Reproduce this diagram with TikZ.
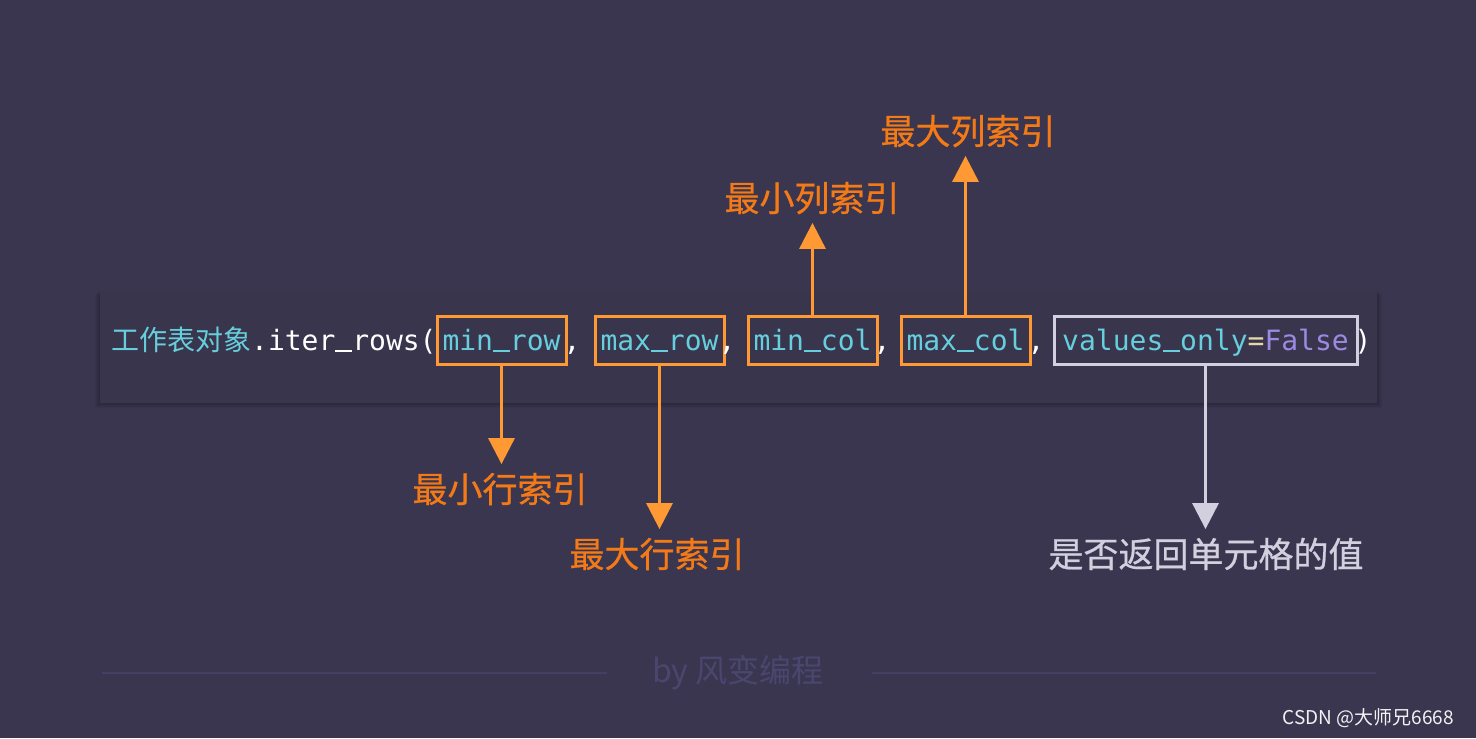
\documentclass[tikz,border=0pt]{standalone}
\usepackage{fontspec}
\setmonofont{DejaVu Sans Mono}
\newfontfamily\cjk{Noto Sans CJK SC}
\newfontfamily\cjkb[FakeBold=0.6]{Noto Sans CJK SC}
\usetikzlibrary{arrows.meta}

\definecolor{bgc}{RGB}{58,54,80}
\definecolor{panelc}{RGB}{56,53,77}
\definecolor{codecyan}{RGB}{102,206,220}
\definecolor{argorange}{RGB}{255,153,51}
\definecolor{lblorange}{RGB}{243,122,22}
\definecolor{valgray}{RGB}{210,208,222}
\definecolor{eqc}{RGB}{230,215,170}
\definecolor{falsec}{RGB}{155,138,224}
\definecolor{rulec}{RGB}{68,64,100}
\definecolor{byc}{RGB}{74,70,110}

% underscore drawn as a rule, one mono cell wide
\newcommand{\usc}{\makebox[0.602em][l]{\rule[-0.9pt]{0.602em}{1.1pt}}}

\begin{document}
\begin{tikzpicture}[x=0.5pt,y=-0.5pt,
    code/.style={font=\fontsize{14pt}{16pt}\selectfont\ttfamily, text=codecyan,
        inner xsep=0pt, inner ysep=0pt, text height=12pt, text depth=2pt},
    argbox/.style={code, draw=argorange, line width=1.5pt,
        minimum width=64.5pt, minimum height=24pt},
    lbl/.style={font=\cjkb\fontsize{17.5pt}{20pt}\selectfont, text=lblorange,
        inner sep=0pt, text height=15.4pt, text depth=2.1pt},
    arr/.style={line width=1.5pt, draw=argorange,
        -{Triangle[width=13pt,length=13pt]}, shorten >=3.5pt}
]
    % Background and code panel with a soft shadow
    \fill[bgc] (0,0) rectangle (1476,738);
    \foreach \s in {1,...,5} {
        \fill[black, opacity=0.045] (100-\s,290+\s) rectangle (1377+\s,403+\s);
    }
    \fill[panelc] (100,290) rectangle (1377,403);

    % The call itself
    \node[code, anchor=east] (obj) at (437,340)
        {{\cjk 工作表对象}{\color{white}.iter\usc rows(}};

    % Boxed arguments
    \foreach \n/\x/\t in {minrow/501.5/min\usc row, maxrow/659.5/max\usc row,
                          mincol/812.5/min\usc col, maxcol/965.5/max\usc col} {
        \node[argbox] (\n) at (\x,340) {\t};
    }
    \node[argbox, draw=valgray, minimum width=151.5pt] (values) at (1205.5,340)
        {values\usc only{\color{eqc}=}{\color{falsec}False}};

    % Commas and closing bracket
    \foreach \x [count=\i] in {572,727,882,1036} {
        \node[code, text=white] (comma\i) at (\x,340) {,};
    }
    \node[code, text=white] (close) at (1363,340) {)};

    % Labels
    \node[lbl] (lminrow) at (500,489) {最小行索引};
    \node[lbl] (lmaxrow) at (657,554) {最大行索引};
    \node[lbl] (lmincol) at (812,198) {最小列索引};
    \node[lbl] (lmaxcol) at (968,131) {最大列索引};
    \node[lbl, text=valgray] (lvalues) at (1206,554) {是否返回单元格的值};

    % Arrows down to the row labels, up to the column labels
    \foreach \b/\l in {minrow/lminrow, maxrow/lmaxrow} {
        \draw[arr] (\b.south) -- (\b.south |- \l.north);
    }
    \foreach \b/\l in {mincol/lmincol, maxcol/lmaxcol} {
        \draw[arr] (\b.north) -- (\b.north |- \l.south);
    }
    \draw[arr, draw=valgray] (values.south) -- (values.south |- lvalues.north);

    % Footer
    \node[font=\cjk\fontsize{16pt}{18pt}\selectfont, text=byc] (byline) at (738,673) {by 风变编程};
    \coordinate (rulea) at (102,673);
    \coordinate (ruleb) at (607,673);
    \coordinate (rulec) at (872,673);
    \coordinate (ruled) at (1376,673);
    \draw[rulec, line width=1pt] (rulea) -- (ruleb);
    \draw[rulec, line width=1pt] (rulec) -- (ruled);
    \node[font=\cjk\fontsize{9.5pt}{11pt}\selectfont, text=white!90!gray, anchor=east] (mark) at (1461,718)
        {CSDN @大师兄6668};
\end{tikzpicture}
\end{document}
